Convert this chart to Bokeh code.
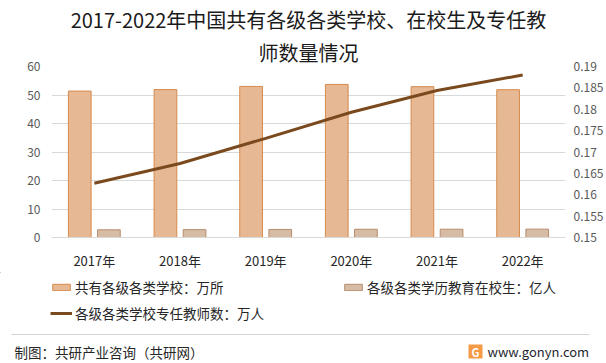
from bokeh.plotting import figure
from bokeh.models import (FactorRange, Range1d, LinearAxis, FixedTicker, Label, Legend,
                          LegendItem, BoxAnnotation, ColumnDataSource, Title)
from bokeh.transform import dodge
from bokeh.layouts import column
from bokeh.embed import file_html
from bokeh.resources import INLINE

# ---- data ----
years = ["2017年", "2018年", "2019年", "2020年", "2021年", "2022年"]
schools = [51.38, 51.89, 53.01, 53.71, 52.93, 51.85]        # 共有各级各类学校：万所
students = [2.70, 2.76, 2.82, 2.89, 2.91, 2.93]              # 各级各类学历教育在校生：亿人
teachers = [0.1627, 0.1673, 0.1732, 0.1793, 0.1844, 0.1880]  # 各级各类学校专任教师数
left_ticks = [0, 10, 20, 30, 40, 50, 60]
right_ticks = [0.15, 0.155, 0.16, 0.165, 0.17, 0.175, 0.18, 0.185, 0.19]
right_tick_labels = ["0.15", "0.155", "0.16", "0.165", "0.17", "0.175", "0.18", "0.185", "0.19"]
series_names = ["共有各级各类学校：万所", "各级各类学历教育在校生：亿人", "各级各类学校专任教师数：万人"]
title_lines = ["2017-2022年中国共有各级各类学校、在校生及专任教", "师数量情况"]
footer_text = "制图：共研产业咨询（共研网）"
site_text = "www.gonyn.com"

FONT = "Noto Sans CJK SC"
W = 606
MAIN_H = 272
BOT_H = 363 - MAIN_H
FL, FR, FT, FB = 51, 565, 66, 238   # frame edges in px

BAR1 = dict(fill_color="#E6B894", line_color="#D68A4C", line_width=1)
BAR2 = dict(fill_color="#D6BBA5", line_color="#B88D6C", line_width=1)
LINE = dict(line_color="#7A4A1E", line_width=3)

src = ColumnDataSource(dict(years=years, schools=schools, students=students, teachers=teachers))

p = figure(width=W, height=MAIN_H, x_range=FactorRange(*years), y_range=Range1d(0, 60),
           min_border_left=FL, min_border_right=W - FR, min_border_top=FT,
           min_border_bottom=MAIN_H - FB,
           toolbar_location=None, output_backend="svg", outline_line_alpha=0,
           background_fill_color="white", border_fill_color="white")
p.frame_align = False
p.extra_y_ranges = {"r": Range1d(0.15, 0.19)}

p.vbar(x=dodge("years", -0.17, range=p.x_range), top="schools", width=0.265, source=src, **BAR1)
p.vbar(x=dodge("years", 0.17, range=p.x_range), top="students", width=0.265, source=src, **BAR2)
p.line(x="years", y="teachers", source=src, y_range_name="r", **LINE)

# title (two lines, above the frame)
t1 = Title(text=title_lines[0], align="center", offset=-5, standoff=4, text_font=FONT,
           text_font_size="20px", text_font_style="normal", text_color="#1A1A1A")
t2 = Title(text=title_lines[1], align="center", offset=-5, standoff=0, text_font=FONT,
           text_font_size="20px", text_font_style="normal", text_color="#1A1A1A")
p.title = t1
p.add_layout(t2, "above")

# axes
p.xgrid.grid_line_alpha = 0
p.ygrid.grid_line_color = "#D9D9D9"
p.ygrid.ticker = FixedTicker(ticks=left_ticks)

xa = p.xaxis[0]
xa.axis_line_color = "#D9D9D9"
xa.major_tick_line_alpha = 0
xa.major_tick_out = 0
xa.major_tick_in = 0
xa.minor_tick_line_alpha = 0
xa.major_label_standoff = 13
xa.major_label_text_font = FONT
xa.major_label_text_font_size = "13px"
xa.major_label_text_color = "#262626"

ya = p.yaxis[0]
ya.ticker = FixedTicker(ticks=left_ticks)
ya.axis_line_alpha = 0
ya.major_tick_line_alpha = 0
ya.major_tick_out = 0
ya.major_tick_in = 0
ya.minor_tick_line_alpha = 0
ya.major_label_standoff = 11
ya.major_label_text_font = FONT
ya.major_label_text_font_size = "12px"
ya.major_label_text_color = "#595959"

ra = LinearAxis(y_range_name="r", ticker=FixedTicker(ticks=right_ticks),
                major_label_overrides={t: s for t, s in zip(right_ticks, right_tick_labels)})
ra.axis_line_alpha = 0
ra.major_tick_line_alpha = 0
ra.major_tick_out = 0
ra.major_tick_in = 0
ra.minor_tick_line_alpha = 0
ra.major_label_standoff = 8
ra.major_label_text_font = FONT
ra.major_label_text_font_size = "12px"
ra.major_label_text_color = "#595959"
p.add_layout(ra, "right")

# ---- bottom figure: legend + footer (pixel data coordinates, y downward) ----
f = figure(width=W, height=BOT_H, x_range=Range1d(0, W), y_range=Range1d(363, MAIN_H),
           x_axis_type=None, y_axis_type=None,
           min_border_left=0, min_border_right=0, min_border_top=0, min_border_bottom=0,
           toolbar_location=None, output_backend="svg", outline_line_alpha=0,
           background_fill_color="white", border_fill_color="white")
f.frame_align = False
f.grid.visible = False

# off-canvas stand-ins so the legend can draw its swatches
lg1 = f.vbar(x=[-100], top=[0], width=0, **BAR1)
lg2 = f.vbar(x=[-100], top=[0], width=0, **BAR2)
lg3 = f.line(x=[-100, -90], y=[0, 0], **LINE)
legend = Legend(items=[LegendItem(label=series_names[0], renderers=[lg1]),
                       LegendItem(label=series_names[1], renderers=[lg2]),
                       LegendItem(label=series_names[2], renderers=[lg3])],
                orientation="horizontal", ncols=2, location=(50, 363 - 323),
                glyph_width=22, glyph_height=8, label_standoff=3, label_width=261,
                label_height=20, spacing=6, padding=0, margin=0,
                border_line_alpha=0, background_fill_alpha=0,
                label_text_font=FONT, label_text_font_size="13.5px", label_text_color="#262626")
f.add_layout(legend)

f.add_layout(BoxAnnotation(left=11, right=589, top=333.5, bottom=334.5,
                           fill_color="#D4D4D4", fill_alpha=1, line_alpha=0))
f.add_layout(Label(x=14, y=351, text=footer_text, text_align="left", text_baseline="middle",
                   text_font=FONT, text_font_size="13.5px", text_color="#262626"))
f.add_layout(BoxAnnotation(left=468, right=482, top=344, bottom=358,
                           fill_color="#F59A45", fill_alpha=1, line_alpha=0))
f.add_layout(Label(x=475, y=351, text="G", text_align="center", text_baseline="middle",
                   text_font=FONT, text_font_size="11px", text_font_style="bold",
                   text_color="white"))
f.add_layout(Label(x=487, y=351, text=site_text, text_align="left", text_baseline="middle",
                   text_font=FONT, text_font_size="13px", text_color="#1F1F2E"))

layout = column(p, f, spacing=0)
open("out.html", "w").write(file_html(layout, INLINE))
